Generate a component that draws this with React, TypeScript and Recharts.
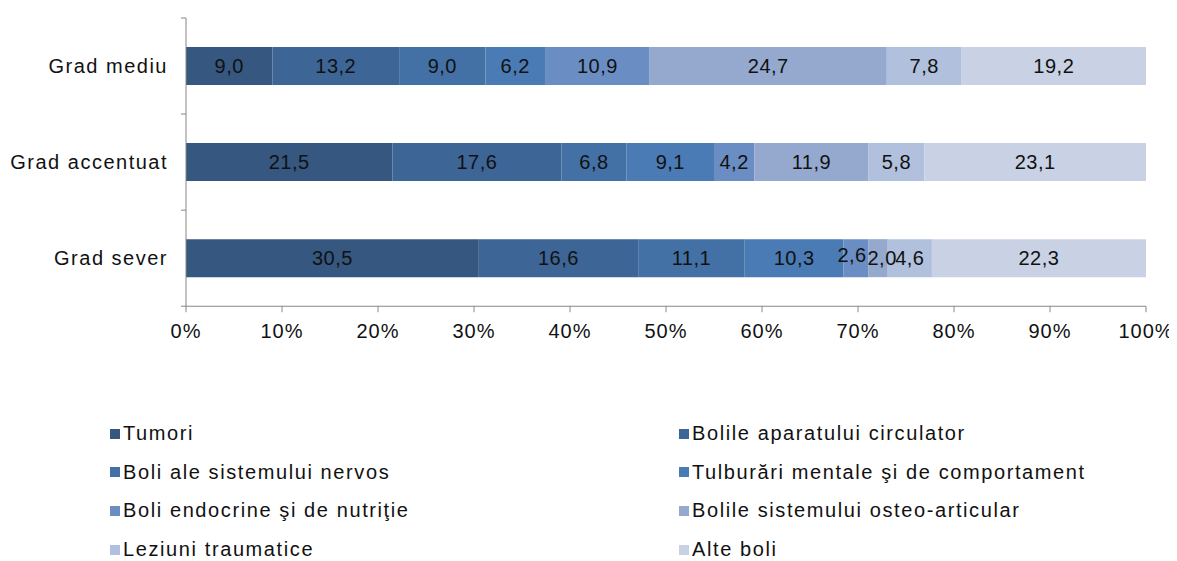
import { BarChart, Bar, XAxis, YAxis, Legend, LabelList } from "recharts";

const categories = ["Grad mediu", "Grad accentuat", "Grad sever"];

const seriesNames = [
  "Tumori",
  "Bolile aparatului circulator",
  "Boli ale sistemului nervos",
  "Tulburări mentale şi de comportament",
  "Boli endocrine şi de nutriţie",
  "Bolile sistemului osteo-articular",
  "Leziuni traumatice",
  "Alte boli",
];

// one array per category, in series order
const gradMediu = [9.0, 13.2, 9.0, 6.2, 10.9, 24.7, 7.8, 19.2];
const gradAccentuat = [21.5, 17.6, 6.8, 9.1, 4.2, 11.9, 5.8, 23.1];
const gradSever = [30.5, 16.6, 11.1, 10.3, 2.6, 2.0, 4.6, 22.3];

const xTicks = [0, 10, 20, 30, 40, 50, 60, 70, 80, 90, 100];

const colors = [
  "#36577f",
  "#3d6596",
  "#4371a6",
  "#4a7bb5",
  "#6a8ec3",
  "#95a9cf",
  "#b1c0dc",
  "#c9d2e5",
];

const values = [gradMediu, gradAccentuat, gradSever];
const data = categories.map((name, i) => {
  const row: Record<string, string | number> = { name };
  seriesNames.forEach((s, j) => {
    row["s" + j] = values[i][j];
  });
  return row;
});

const FONT = "'Liberation Sans', Arial, sans-serif";
const AXIS = "#868686";
const BAND = 96;

const YTick = (props: any) => {
  const { x, y, payload, index } = props;
  const ax = x + 18;
  return (
    <g>
      <text
        x={x}
        y={y}
        dy="0.35em"
        textAnchor="end"
        fontFamily={FONT}
        fontSize={20}
        letterSpacing={1.5}
        fill="#111"
      >
        {payload.value}
      </text>
      <line x1={ax - 5} x2={ax} y1={y + BAND / 2} y2={y + BAND / 2} stroke={AXIS} />
      {index === 0 && (
        <line x1={ax - 5} x2={ax} y1={y - BAND / 2} y2={y - BAND / 2} stroke={AXIS} />
      )}
    </g>
  );
};

const LegendBox = () => (
  <div
    style={{
      display: "grid",
      gridTemplateColumns: "569px auto",
      paddingLeft: 102,
      fontFamily: FONT,
      fontSize: 20,
      letterSpacing: 1.6,
      color: "#111",
    }}
  >
    {seriesNames.map((s, i) => (
      <div key={s} style={{ height: 38.7, display: "flex", alignItems: "center" }}>
        <span
          style={{
            display: "inline-block",
            width: 10,
            height: 10,
            background: colors[i],
            marginRight: 3,
          }}
        />
        {s}
      </div>
    ))}
  </div>
);

const fmt = (v: any) => Number(v).toFixed(1).replace(".", ",");

// tiny segments: push their labels apart a little, as in the original
const makeLabel = (series: number) => (props: any) => {
  const vb = props.viewBox || props;
  const { x, y, width, height } = vb;
  const v = Number(props.value);
  let dx = 0;
  let dy = 0;
  if (v < 3) {
    if (series === 4) {
      dx = -4;
      dy = -3;
    }
    if (series === 5) dx = 4;
  }
  return (
    <text
      x={x + width / 2 + dx}
      y={y + height / 2 + dy}
      dy="0.35em"
      textAnchor="middle"
      fill="#111"
      fontFamily={FONT}
      fontSize={20}
      letterSpacing={0.5}
    >
      {fmt(v)}
    </text>
  );
};

export default function App() {
  return (
    <BarChart
      width={1169}
      height={561}
      data={data}
      layout="vertical"
      margin={{ top: 10, right: 31, bottom: 0, left: 0 }}
      stackOffset="expand"
    >
      <XAxis
        type="number"
        domain={[0, 1]}
        ticks={xTicks.map((t) => t / 100)}
        tickFormatter={(v) => Math.round(v * 100) + "%"}
        stroke={AXIS}
        tickSize={6}
        tickMargin={12}
        height={108}
        tick={{ fill: "#111", fontFamily: FONT, fontSize: 20, letterSpacing: 1 }}
        interval={0}
      />
      <YAxis
        type="category"
        dataKey="name"
        width={178}
        stroke={AXIS}
        tickLine={false}
        tickSize={5}
        tickMargin={13}
        tick={<YTick />}
        interval={0}
      />
      <Legend verticalAlign="bottom" content={<LegendBox />} />
      {seriesNames.map((s, i) => (
        <Bar
          key={s}
          dataKey={"s" + i}
          name={s}
          stackId="a"
          fill={colors[i]}
          barSize={38}
          isAnimationActive={false}
        >
          <LabelList dataKey={"s" + i} content={makeLabel(i)} />
        </Bar>
      ))}
    </BarChart>
  );
}
